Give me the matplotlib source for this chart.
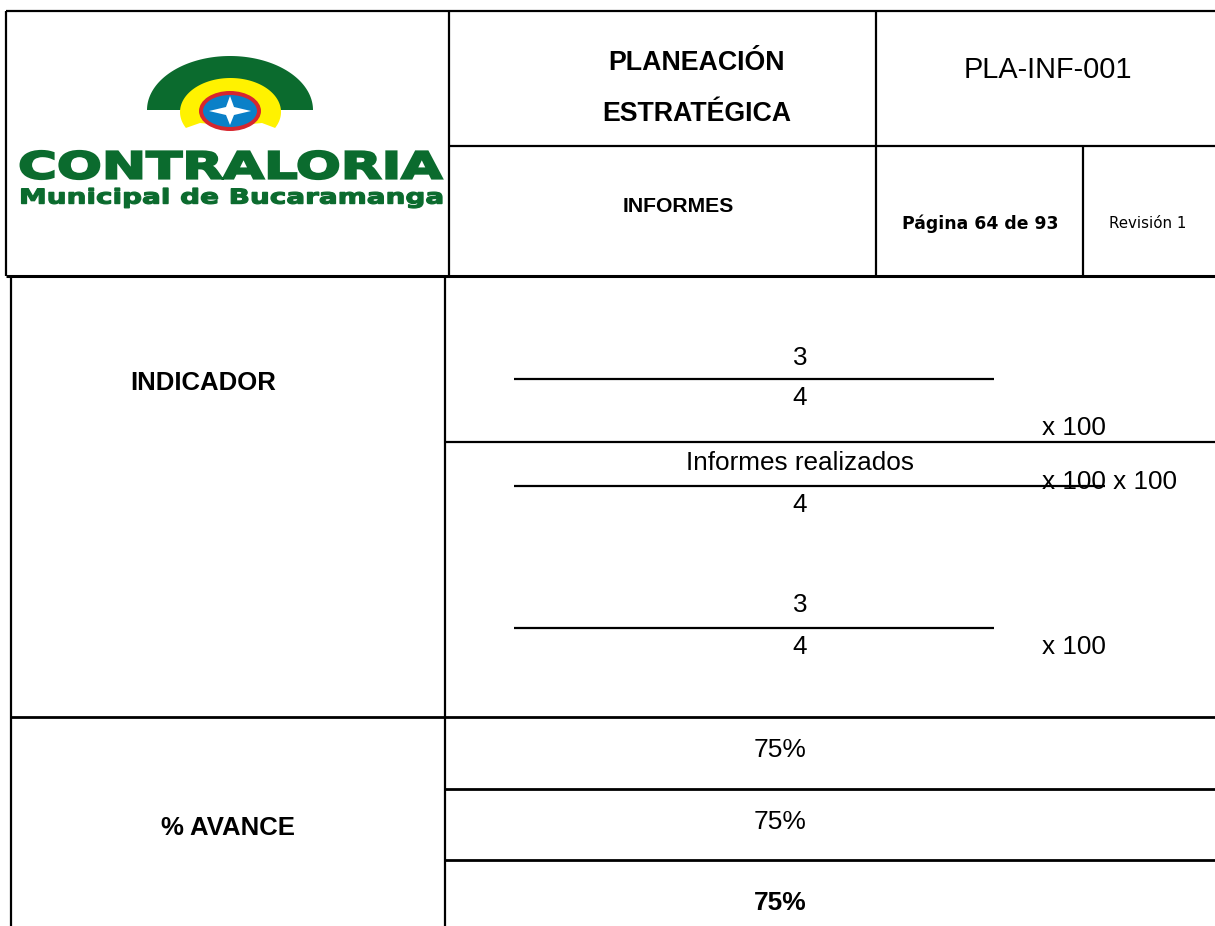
import matplotlib
matplotlib.use('agg')
import matplotlib.pyplot as plt
import numpy as np
from matplotlib.patches import Ellipse, Polygon, PathPatch
from matplotlib.textpath import TextPath
from matplotlib.font_manager import FontProperties
from matplotlib.path import Path

W, H = 1215, 926

# table content
header_title = ['PLANEACIÓN', 'ESTRATÉGICA']
doc_code = 'PLA-INF-001'
section = 'INFORMES'
page_label = 'Página 64 de 93'
revision = 'Revisión 1'
row_labels = ['INDICADOR', '% AVANCE']
numerators = ['3', 'Informes realizados', '3']
denominators = ['4', '4', '4']
multipliers = ['x 100', 'x 100 x 100', 'x 100']
avance = ['75%', '75%', '75%']
avance_bold = [False, False, True]

GREEN = '#0b6b2e'
ARIAL = 'Liberation Sans'

fig = plt.figure(figsize=(W / 100, H / 100), dpi=100)
ax = fig.add_axes([0, 0, 1, 1])
ax.set_xlim(0, W)
ax.set_ylim(H, 0)
ax.axis('off')


def hline(y, x0, x1, lw=1.6):
    ax.plot([x0, x1], [y, y], color='black', lw=lw, solid_capstyle='butt')


def vline(x, y0, y1, lw=1.6):
    ax.plot([x, x], [y0, y1], color='black', lw=lw, solid_capstyle='butt')


def fit_text(s, x0, y0, x1, y1, weight='bold', family='DejaVu Sans', lw=1.2):
    # draw text as a path stretched into the box (x0, y0)-(x1, y1)
    tp = TextPath((0, 0), s, size=100, prop=FontProperties(family=family, weight=weight))
    v = tp.vertices.copy()
    mnx, mny = v.min(axis=0)
    mxx, mxy = v.max(axis=0)
    v[:, 0] = x0 + (v[:, 0] - mnx) * (x1 - x0) / (mxx - mnx)
    v[:, 1] = y1 - (v[:, 1] - mny) * (y1 - y0) / (mxy - mny)
    ax.add_patch(PathPatch(Path(v, tp.codes), fc=GREEN, ec=GREEN, lw=lw))


# ---- header grid
hline(11, 6, W)
hline(276, 6, W, lw=2.2)
vline(6, 11, 276)
vline(449, 11, 276)
vline(876, 11, 276)
hline(146, 449, W)
vline(1083, 146, 276)

# ---- logo
t = np.linspace(0, np.pi, 100)
ax.add_patch(Polygon(np.c_[230 + 83 * np.cos(t), 110 - 54 * np.sin(t)], fc=GREEN, ec='none'))
t = np.radians(np.linspace(-28, 208, 120))
yel = np.c_[230.5 + 50.5 * np.cos(t), 112 - 34 * np.sin(t)]
yel = np.vstack([yel, [[200, 123], [230, 126], [262, 123]]])
ax.add_patch(Polygon(yel, fc='#fff200', ec='none'))
ax.add_patch(Ellipse((230, 111), 62, 40, fc='#d7262e', ec='none'))
ax.add_patch(Ellipse((230, 111), 54, 32, fc='#0a80c8', ec='none'))
star = [(209, 111), (226, 107), (230, 96), (234, 107), (251, 111),
        (234, 115), (230, 125), (226, 115)]
ax.add_patch(Polygon(star, fc='white', ec='none'))
fit_text('CONTRALORIA', 18, 151, 442, 179, lw=1.6)
fit_text('Municipal de Bucaramanga', 19, 188, 442, 208, lw=0.9)

# ---- header text
ax.text(697, 63, header_title[0], fontsize=19.3, fontweight='bold', family=ARIAL,
        ha='center', va='center')
ax.text(697, 114, header_title[1], fontsize=19.3, fontweight='bold', family=ARIAL,
        ha='center', va='center')
ax.text(1048, 70, doc_code, fontsize=20.8, family=ARIAL, ha='center', va='center')
ax.text(678, 206, section, fontsize=15.2, fontweight='bold', family=ARIAL,
        ha='center', va='center')
ax.text(980, 224, page_label, fontsize=12.4, fontweight='bold', family='DejaVu Sans',
        ha='center', va='center')
ax.text(1148, 224, revision, fontsize=10.8, family='DejaVu Sans',
        ha='center', va='center')

# ---- body grid
vline(11, 276, H)
vline(445, 276, H)
hline(442, 445, W)
hline(717, 11, W, lw=2)
hline(789, 445, W, lw=2)
hline(860, 445, W, lw=2)

ax.text(203, 383, row_labels[0], fontsize=18.5, fontweight='bold', family=ARIAL,
        ha='center', va='center')
ax.text(228, 828, row_labels[1], fontsize=18.5, fontweight='bold', family=ARIAL,
        ha='center', va='center')

# fractions
num_y = [358, 463, 605]
bar_y = [379, 486, 628]
bar_x1 = [994, 1105, 994]
mul_y = [428, 482, 647]
for i in range(3):
    ax.text(800, num_y[i], numerators[i], fontsize=18.8, family=ARIAL, ha='center', va='center')
    hline(bar_y[i], 514, bar_x1[i], lw=1.6)
    ax.text(800, bar_y[i] + 19, denominators[i], fontsize=18.8, family=ARIAL,
            ha='center', va='center')
    ax.text(1042, mul_y[i], multipliers[i], fontsize=18.8, family=ARIAL, ha='left', va='center')

# avance rows
av_y = [750, 822, 903]
for i in range(3):
    ax.text(780, av_y[i], avance[i], fontsize=19, family=ARIAL,
            fontweight='bold' if avance_bold[i] else 'normal', ha='center', va='center')

fig.savefig('out.png', dpi=100, facecolor='white')
